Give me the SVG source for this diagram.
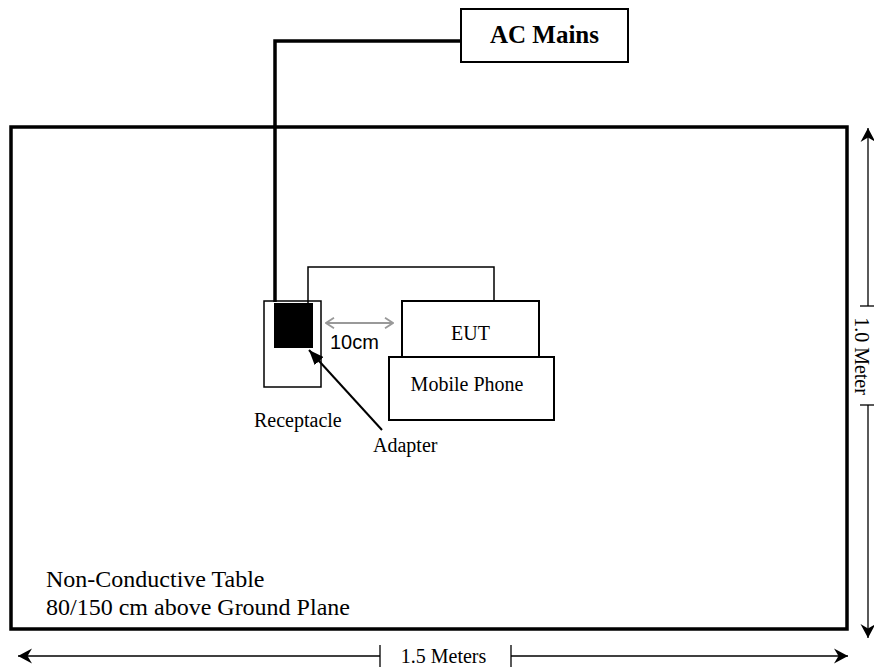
<svg xmlns="http://www.w3.org/2000/svg" width="874" height="668" viewBox="0 0 874 668">
<style>
.serif{font-family:"Liberation Serif","Times New Roman",serif;fill:#000}
.sans{font-family:"Liberation Sans",Arial,sans-serif;fill:#000}
.box{fill:#fff;stroke:#000;stroke-width:2}
.thick{fill:none;stroke:#000;stroke-width:3.5}
.thin{fill:none;stroke:#000;stroke-width:1.5}
.dim{fill:none;stroke:#000;stroke-width:1.3}
</style>
<defs>
<marker id="barb" viewBox="0 0 16 16" refX="15" refY="8" markerWidth="16" markerHeight="16" markerUnits="userSpaceOnUse" orient="auto-start-reverse">
<path d="M15,8 L1,0.5 L5.5,8 L1,15.5 Z" fill="#000"/>
</marker>
<marker id="grayhead" viewBox="0 0 10 12" refX="9" refY="6" markerWidth="10" markerHeight="12" markerUnits="userSpaceOnUse" orient="auto-start-reverse">
<path d="M1,0.8 L9,6 L1,11.2" fill="none" stroke="#999" stroke-width="1.8"/>
</marker>
<marker id="fillhead" viewBox="0 0 16 12" refX="15" refY="6" markerWidth="16" markerHeight="12" markerUnits="userSpaceOnUse" orient="auto">
<path d="M15,6 L0,0 L0,12 Z" fill="#000"/>
</marker>
</defs>
<rect width="874" height="668" fill="#fff"/>

<g id="table">
<rect x="11" y="127" width="836" height="502" fill="none" stroke="#000" stroke-width="3.5"/>
<text class="serif" x="46" y="587" font-size="24">Non-Conductive Table</text>
<text class="serif" x="46" y="615" font-size="24">80/150 cm above Ground Plane</text>
</g>

<g id="ac-mains">
<rect class="box" x="461" y="9" width="167" height="53"/>
<text class="serif" x="544.5" y="43" font-size="25" font-weight="bold" text-anchor="middle">AC Mains</text>
</g>

<g id="receptacle">
<rect x="264" y="301" width="57" height="86" fill="#fff" stroke="#000" stroke-width="1.5"/>
<text class="serif" x="254" y="427" font-size="20">Receptacle</text>
</g>

<g id="adapter">
<rect x="274" y="303" width="39" height="45" fill="#000"/>
<text class="serif" x="373" y="452" font-size="20">Adapter</text>
</g>

<g id="distance">
<text class="sans" x="330" y="349" font-size="20">10cm</text>
</g>

<g id="mobile-phone">
<rect class="box" x="389" y="357" width="165" height="63"/>
<text class="serif" x="467" y="391" font-size="20" text-anchor="middle">Mobile Phone</text>
</g>

<g id="eut">
<rect class="box" x="402" y="301" width="137" height="56"/>
<text class="serif" x="470.5" y="340" font-size="20" text-anchor="middle">EUT</text>
</g>

<g id="connectors">
<polyline class="thick" points="461,41 275,41 275,302"/>
<polyline class="thin" points="308,304 308,267 494,267 494,301"/>
<line x1="326" y1="323" x2="393" y2="323" stroke="#999" stroke-width="1.8" marker-start="url(#grayhead)" marker-end="url(#grayhead)"/>
<line x1="382" y1="430" x2="309" y2="350" stroke="#000" stroke-width="2" marker-end="url(#fillhead)"/>
</g>

<g id="dimensions">
<line class="dim" x1="380" y1="656" x2="18" y2="656" marker-end="url(#barb)"/>
<line class="dim" x1="511" y1="656" x2="848" y2="656" marker-end="url(#barb)"/>
<line class="dim" x1="380" y1="645" x2="380" y2="667"/>
<line class="dim" x1="511" y1="645" x2="511" y2="667"/>
<text class="serif" x="443.5" y="663" font-size="20" text-anchor="middle">1.5 Meters</text>
<line class="dim" x1="868" y1="306" x2="868" y2="128" marker-end="url(#barb)"/>
<line class="dim" x1="868" y1="405" x2="868" y2="638" marker-end="url(#barb)"/>
<line class="dim" x1="860" y1="306" x2="874" y2="306"/>
<line class="dim" x1="860" y1="405" x2="874" y2="405"/>
<text class="serif" transform="translate(855,356) rotate(90)" font-size="20" text-anchor="middle">1.0 Meter</text>
</g>
</svg>
